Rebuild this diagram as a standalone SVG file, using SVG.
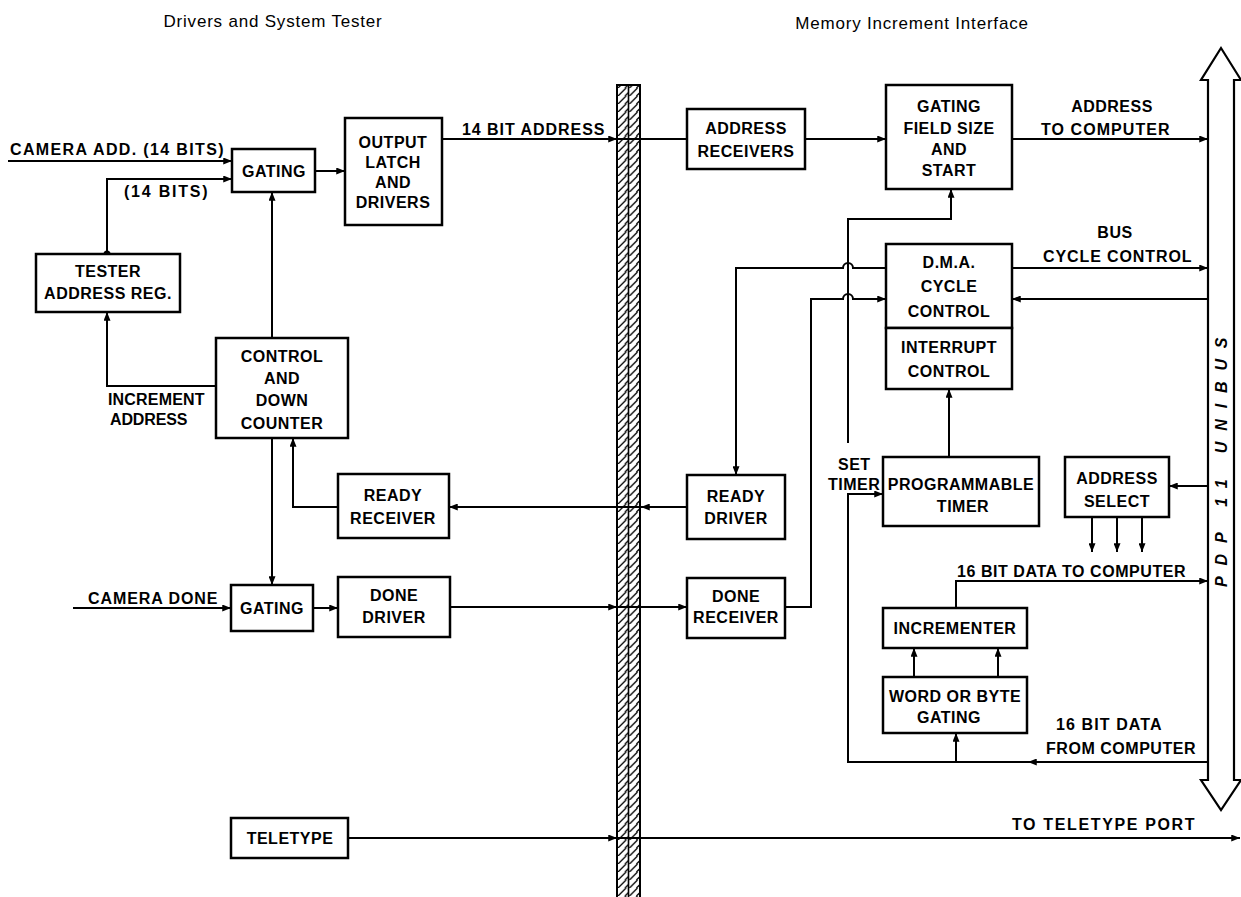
<svg xmlns="http://www.w3.org/2000/svg" width="1241" height="897" viewBox="0 0 1241 897">
<style>
.box{fill:#fff;stroke:#000;stroke-width:2.5}
.ln{fill:none;stroke:#000;stroke-width:2}
.a{marker-end:url(#ah)}
text{font-family:"Liberation Sans",Arial,sans-serif;font-weight:bold;font-size:16px;letter-spacing:0.5px;fill:#000}
.c{text-anchor:middle}
.title{font-weight:normal;font-size:17px;letter-spacing:0.8px}
</style>
<defs>
<marker id="ah" viewBox="0 0 10 8" refX="10" refY="4" markerWidth="9" markerHeight="7" markerUnits="userSpaceOnUse" orient="auto"><path d="M0,0 L10,4 L0,8 z" fill="#000"/></marker>
<pattern id="hatch" patternUnits="userSpaceOnUse" x="617" y="0" width="11.5" height="8"><path d="M0,9 L9,0 M8,8 L11.5,4.5 M-1,1 L0,0" stroke="#000" stroke-width="1.3" fill="none"/></pattern>
</defs>
<rect width="1241" height="897" fill="#fff"/>
<text class="title c" x="273" y="27">Drivers and System Tester</text>
<text class="title c" x="912" y="29">Memory Increment Interface</text>
<g id="barrier">
<rect x="617" y="85" width="23" height="815" fill="url(#hatch)" stroke="#000" stroke-width="2"/>
<line x1="628.5" y1="85" x2="628.5" y2="897" stroke="#000" stroke-width="1.6"/>
</g>
<g id="unibus">
<path d="M1221,48 L1241,80 L1234,80 L1234,780 L1241,780 L1221,810 L1201,780 L1208,780 L1208,80 L1201,80 Z" fill="#fff" stroke="#000" stroke-width="2.2"/>
<text class="c" transform="translate(1227,462) rotate(-90)" x="0" y="0" font-style="italic" textLength="250" lengthAdjust="spacing">PDP 11 UNIBUS</text>
</g>
<g id="connectors">
<path class="ln a" d="M8,161 H232"/>
<path class="ln a" d="M107,254 V179 H232"/>
<circle cx="107" cy="254" r="3.5" fill="#000"/>
<path class="ln a" d="M315,171 H345"/>
<path class="ln a" d="M272,338 V192"/>
<path class="ln a" d="M216,386 H107 V312"/>
<path class="ln a" d="M272,438 V585"/>
<path class="ln a" d="M338,507 H293 V438"/>
<path class="ln a" d="M73,608 H231"/>
<path class="ln a" d="M313,608 H338"/>
<path class="ln a" d="M450,607 H617"/>
<path class="ln a" d="M617,607 H687"/>
<path class="ln a" d="M442,139 H617"/>
<path class="ln" d="M617,139 H687"/>
<path class="ln a" d="M687,507 H641"/>
<path class="ln a" d="M641,507 H449"/>
<path class="ln a" d="M348,838 H617"/>
<path class="ln a" d="M617,838 H1240"/>
<path class="ln a" d="M805,139 H886"/>
<path class="ln a" d="M1012,139 H1208"/>
<path class="ln a" d="M1012,268 H1208"/>
<path class="ln a" d="M1208,299 H1012"/>
<path class="ln a" d="M886,268 H853 A5,5 0 0 0 843,268 H736 V475"/>
<path class="ln a" d="M785,607 H811 V299 H843 A5,5 0 0 1 853,299 H886"/>
<path class="ln a" d="M848,443 V219 H951 V189"/>
<path class="ln a" d="M1208,762 H1028"/>
<path class="ln a" d="M1030,762 H848 V494 H883"/>
<path class="ln a" d="M956,762 V733"/>
<path class="ln a" d="M914,677 V648"/>
<path class="ln a" d="M998,677 V648"/>
<path class="ln a" d="M956,608 V581 H1208"/>
<path class="ln a" d="M949,457 V389"/>
<path class="ln a" d="M1208,486 H1169"/>
<path class="ln a" d="M1092,517 V552"/>
<path class="ln a" d="M1117,517 V552"/>
<path class="ln a" d="M1142,517 V552"/>
</g>
<g id="labels">
<text x="10" y="155" textLength="214" lengthAdjust="spacing">CAMERA ADD. (14 BITS)</text>
<text x="124" y="197" textLength="84" lengthAdjust="spacing">(14 BITS)</text>
<text x="108" y="405" textLength="97" lengthAdjust="spacing">INCREMENT</text>
<text x="110" y="425" textLength="78" lengthAdjust="spacing">ADDRESS</text>
<text x="462" y="135" textLength="143" lengthAdjust="spacing">14 BIT ADDRESS</text>
<text x="88" y="604" textLength="130" lengthAdjust="spacing">CAMERA DONE</text>
<text class="c" x="1112" y="112">ADDRESS</text>
<text x="1041" y="135" textLength="129" lengthAdjust="spacing">TO COMPUTER</text>
<text class="c" x="1115" y="238">BUS</text>
<text x="1043" y="262" textLength="149" lengthAdjust="spacing">CYCLE CONTROL</text>
<text x="838" y="470">SET</text>
<text x="828" y="490">TIMER</text>
<text x="957" y="577" textLength="229" lengthAdjust="spacing">16 BIT DATA TO COMPUTER</text>
<text x="1056" y="730" textLength="106" lengthAdjust="spacing">16 BIT DATA</text>
<text x="1046" y="754" textLength="150" lengthAdjust="spacing">FROM COMPUTER</text>
<text x="1012" y="830" textLength="183" lengthAdjust="spacing">TO TELETYPE PORT</text>
</g>
<g id="gating1"><rect class="box" x="232" y="149" width="83" height="43"/><text class="c" x="274" y="177">GATING</text></g>
<g id="output-latch"><rect class="box" x="345" y="118" width="97" height="107"/><text class="c" x="393" y="148">OUTPUT</text><text class="c" x="393" y="168">LATCH</text><text class="c" x="393" y="188">AND</text><text class="c" x="393" y="208">DRIVERS</text></g>
<g id="tester-reg"><rect class="box" x="36" y="254" width="144" height="58"/><text class="c" x="108" y="277">TESTER</text><text class="c" x="108" y="299">ADDRESS REG.</text></g>
<g id="control"><rect class="box" x="216" y="338" width="132" height="100"/><text class="c" x="282" y="362">CONTROL</text><text class="c" x="282" y="384">AND</text><text class="c" x="282" y="406">DOWN</text><text class="c" x="282" y="429">COUNTER</text></g>
<g id="ready-receiver"><rect class="box" x="338" y="474" width="111" height="64"/><text class="c" x="393" y="501">READY</text><text class="c" x="393" y="524">RECEIVER</text></g>
<g id="gating2"><rect class="box" x="231" y="585" width="82" height="46"/><text class="c" x="272" y="614">GATING</text></g>
<g id="done-driver"><rect class="box" x="338" y="577" width="112" height="60"/><text class="c" x="394" y="601">DONE</text><text class="c" x="394" y="623">DRIVER</text></g>
<g id="teletype"><rect class="box" x="231" y="818" width="117" height="40"/><text class="c" x="290" y="844">TELETYPE</text></g>
<g id="address-receivers"><rect class="box" x="687" y="109" width="118" height="60"/><text class="c" x="746" y="134">ADDRESS</text><text class="c" x="746" y="157">RECEIVERS</text></g>
<g id="gating-field"><rect class="box" x="886" y="85" width="126" height="104"/><text class="c" x="949" y="112">GATING</text><text class="c" x="949" y="134">FIELD SIZE</text><text class="c" x="949" y="155">AND</text><text class="c" x="949" y="176">START</text></g>
<g id="dma"><rect class="box" x="886" y="244" width="126" height="84"/><text class="c" x="949" y="268">D.M.A.</text><text class="c" x="949" y="292">CYCLE</text><text class="c" x="949" y="317">CONTROL</text></g>
<g id="interrupt"><rect class="box" x="886" y="328" width="126" height="61"/><text class="c" x="949" y="353">INTERRUPT</text><text class="c" x="949" y="377">CONTROL</text></g>
<g id="ready-driver"><rect class="box" x="687" y="475" width="98" height="64"/><text class="c" x="736" y="502">READY</text><text class="c" x="736" y="524">DRIVER</text></g>
<g id="done-receiver"><rect class="box" x="687" y="578" width="98" height="60"/><text class="c" x="736" y="602">DONE</text><text class="c" x="736" y="623">RECEIVER</text></g>
<g id="timer"><rect class="box" x="883" y="457" width="156" height="69"/><text class="c" x="961" y="490">PROGRAMMABLE</text><text class="c" x="963" y="512">TIMER</text></g>
<g id="address-select"><rect class="box" x="1065" y="457" width="104" height="60"/><text class="c" x="1117" y="484">ADDRESS</text><text class="c" x="1117" y="507">SELECT</text></g>
<g id="incrementer"><rect class="box" x="883" y="608" width="144" height="40"/><text class="c" x="955" y="634">INCREMENTER</text></g>
<g id="word-byte"><rect class="box" x="883" y="677" width="144" height="56"/><text class="c" x="955" y="702">WORD OR BYTE</text><text class="c" x="949" y="723">GATING</text></g>
</svg>
